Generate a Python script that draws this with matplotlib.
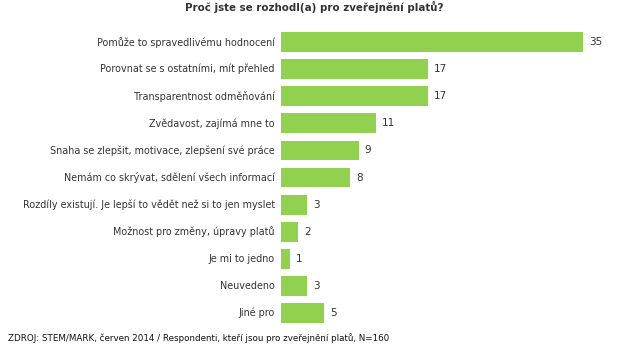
import matplotlib.pyplot as plt

labels = [
    "Pomůže to spravedlivému hodnocení",
    "Porovnat se s ostatními, mít přehled",
    "Transparentnost odměňování",
    "Zvědavost, zajímá mne to",
    "Snaha se zlepšit, motivace, zlepšení své práce",
    "Nemám co skrývat, sdělení všech informací",
    "Rozdíly existují. Je lepší to vědět než si to jen myslet",
    "Možnost pro změny, úpravy platů",
    "Je mi to jedno",
    "Neuvedeno",
    "Jiné pro",
]
values = [35, 17, 17, 11, 9, 8, 3, 2, 1, 3, 5]

title = "Proč jste se rozhodl(a) pro zveřejnění platů?"
source = "ZDROJ: STEM/MARK, červen 2014 / Respondenti, kteří jsou pro zveřejnění platů, N=160"

bar_color = "#92d050"
text_color = "#333333"

fig = plt.figure(figsize=(6.28, 3.48), dpi=100)
ax = fig.add_axes([281 / 628, 0.0615, 347 / 628, 0.8565])

pos = list(range(len(labels)))
ax.barh(pos, values, height=0.73, color=bar_color)
ax.set_ylim(len(labels) - 0.5, -0.5)
ax.set_xlim(0, 40.2)

for y, (lab, v) in enumerate(zip(labels, values)):
    ax.text(-0.7, y, lab, ha="right", va="center", fontsize=6.95, color=text_color)
    ax.text(v + 0.7, y, str(v), ha="left", va="center", fontsize=7.5, color=text_color)

ax.axis("off")

fig.text(0.5, 1 - 7 / 348, title, ha="center", va="center", fontsize=7.4,
         fontweight="bold", color=text_color)
fig.text(8 / 628, 1 - 338 / 348, source, ha="left", va="center", fontsize=6.3,
         color="#111111")

fig.savefig("out.png", dpi=100)
